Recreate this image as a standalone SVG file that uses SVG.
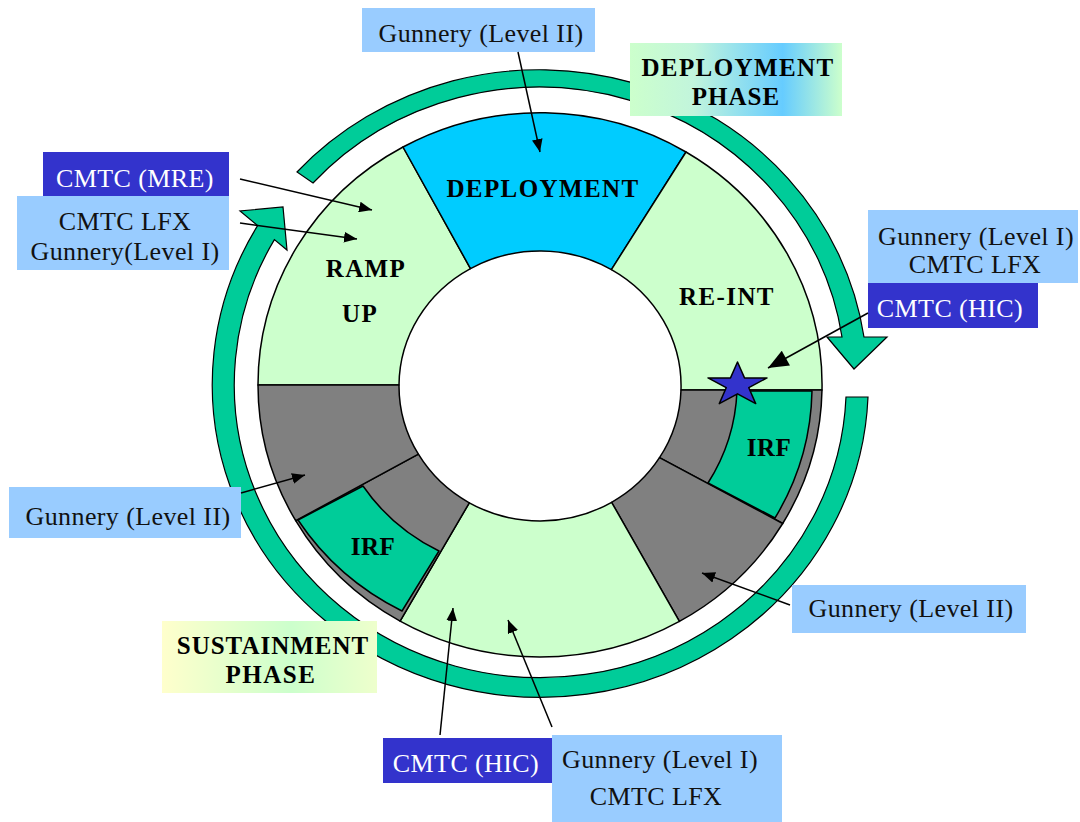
<svg xmlns="http://www.w3.org/2000/svg" width="1080" height="822" viewBox="0 0 1080 822">
<defs>
<style>
.seg{stroke:#000;stroke-width:1.5;stroke-linejoin:round}
.lg{fill:#ccffcc}
.gr{fill:#808080}
.bl{fill:#00ccff}
.tl{fill:#00cc99}
.band{fill:#00cc99;stroke:#000;stroke-width:1.2;stroke-linejoin:miter}
.lb{fill:#99ccff}
.db{fill:#3333cc}
.t{font-family:"Liberation Serif","Times New Roman",serif;font-size:26px;letter-spacing:0.4px;text-anchor:middle;fill:#111}
.tw{fill:#ffffff}
.b{font-family:"Liberation Serif","Times New Roman",serif;font-size:25px;font-weight:bold;letter-spacing:1.4px;text-anchor:middle;fill:#000}
.con{stroke:#000;stroke-width:1.5;fill:none}
</style>
<marker id="ah" viewBox="0 0 12 10" refX="12" refY="5" markerWidth="13" markerHeight="11" markerUnits="userSpaceOnUse" orient="auto"><path d="M0,0 L12,5 L0,10 Z" fill="#000"/></marker>
<marker id="ahL" viewBox="0 0 12 10" refX="12" refY="5" markerWidth="22" markerHeight="17" markerUnits="userSpaceOnUse" orient="auto"><path d="M0,0 L12,5 L0,10 Z" fill="#000"/></marker>
<linearGradient id="gDep" x1="0" y1="0" x2="1" y2="0">
<stop offset="0" stop-color="#ccffcc"/>
<stop offset="0.3" stop-color="#c2f5dc"/>
<stop offset="0.72" stop-color="#66ccff"/>
<stop offset="1" stop-color="#ccffcc"/>
</linearGradient>
<linearGradient id="gSus" x1="0" y1="0" x2="1" y2="0">
<stop offset="0" stop-color="#ffffcc"/>
<stop offset="0.6" stop-color="#ccffcc"/>
<stop offset="1" stop-color="#eeffcc"/>
</linearGradient>
</defs>
<rect width="1080" height="822" fill="#ffffff"/>

<g id="phase-arrows">
<path id="deployment-phase-arrow" class="band" d="M297,172 A328,313 0 0 1 864,337 L887,337 L854,369 L827,337 L842,337 A306,293 0 0 0 313,183 Z"/>
<path id="sustainment-phase-arrow" class="band" d="M868,397 A328,313 0 1 1 257.6,225.6 L240,211 L283,207 L287,250 L274.4,239.6 A306,293 0 1 0 846,397 Z"/>
</g>

<g id="sector-ramp-up">
<path class="seg lg" d="M258,385 A282,272 0 0 1 403,147 L470.5,268.6 A141,135 0 0 0 399,385 Z"/>
<text class="b" x="366" y="277">RAMP</text>
<text class="b" x="360" y="322">UP</text>
</g>
<g id="sector-deployment">
<path class="seg bl" d="M403,147 A282,272 0 0 1 686,152 L611.4,269.6 A141,135 0 0 0 470.5,268.6 Z"/>
<text class="b" x="543" y="197">DEPLOYMENT</text>
</g>
<g id="sector-re-int">
<path class="seg lg" d="M686,152 A282,272 0 0 1 822,390 L681,390 A141,135 0 0 0 611.4,269.6 Z"/>
<text class="b" x="727" y="305">RE-INT</text>
</g>
<g id="sector-right-gray">
<path class="seg gr" d="M822,390 A282,272 0 0 1 782.7,523.5 L659.5,457.7 A141,135 0 0 0 681,390 Z"/>
</g>
<g id="sector-lower-right-gray">
<path class="seg gr" d="M782.7,523.5 A282,272 0 0 1 679.4,621.4 L611.6,502.3 A141,135 0 0 0 659.5,457.7 Z"/>
</g>
<g id="sector-bottom">
<path class="seg lg" d="M679.4,621.4 A282,272 0 0 1 400.1,621.2 L469.3,502.8 A141,135 0 0 0 611.6,502.3 Z"/>
</g>
<g id="sector-lower-left-gray">
<path class="seg gr" d="M400.1,621.2 A282,272 0 0 1 295.7,520.7 L418.4,454.2 A141,135 0 0 0 469.3,502.8 Z"/>
</g>
<g id="sector-left-gray">
<path class="seg gr" d="M295.7,520.7 A282,272 0 0 1 258,385 L399,385 A141,135 0 0 0 418.4,454.2 Z"/>
</g>
<g id="irf-right">
<path class="seg tl" d="M737,391 A197,190 0 0 1 708,483 L775,518 A272,262 0 0 0 812,391 Z"/>
<text class="b" x="769" y="456" style="letter-spacing:0.5px">IRF</text>
</g>
<g id="irf-left">
<path class="seg tl" d="M298,520 L363,486 A200,192 0 0 0 439,551 L402,611 A272,262 0 0 1 298,520 Z"/>
<text class="b" x="373" y="555" style="letter-spacing:0.5px">IRF</text>
</g>
<g id="star">
<polygon class="seg" fill="#3333cc" stroke-width="1.2" points="737.5,362 744.5,377.9 767,377.9 748.8,387.7 755.7,403.6 737.5,393.8 719.3,403.6 726.2,387.7 708,377.9 730.5,377.9"/>
</g>

<g id="box-deployment-phase">
<rect x="630" y="43" width="212" height="73" fill="url(#gDep)"/>
<text class="b" x="738" y="76">DEPLOYMENT</text>
<text class="b" x="736" y="105" style="letter-spacing:1px">PHASE</text>
</g>
<g id="box-sustainment-phase">
<rect x="162" y="621" width="215" height="72" fill="url(#gSus)"/>
<text class="b" x="273" y="654" style="letter-spacing:1px">SUSTAINMENT</text>
<text class="b" x="271" y="683" style="letter-spacing:1.5px">PHASE</text>
</g>

<g id="box-top-gunnery2">
<rect class="lb" x="362" y="8" width="233" height="44"/>
<text class="t" x="481" y="42">Gunnery (Level II)</text>
</g>
<g id="box-cmtc-mre">
<rect class="db" x="43" y="152" width="186" height="44"/>
<text class="t tw" x="135" y="187">CMTC (MRE)</text>
</g>
<g id="box-left-lfx">
<rect class="lb" x="17" y="196" width="212" height="74"/>
<text class="t" x="125" y="230">CMTC LFX</text>
<text class="t" x="125" y="260">Gunnery(Level I)</text>
</g>
<g id="box-right-gunnery1">
<rect class="lb" x="868" y="210" width="210" height="73"/>
<text class="t" x="976" y="245">Gunnery (Level I)</text>
<text class="t" x="975" y="273">CMTC LFX</text>
</g>
<g id="box-right-hic">
<rect class="db" x="868" y="283" width="170" height="45"/>
<text class="t tw" x="950" y="317">CMTC (HIC)</text>
</g>
<g id="box-left-gunnery2">
<rect class="lb" x="9" y="487" width="232" height="51"/>
<text class="t" x="128" y="525">Gunnery (Level II)</text>
</g>
<g id="box-right-gunnery2">
<rect class="lb" x="792" y="585" width="234" height="48"/>
<text class="t" x="911" y="617">Gunnery (Level II)</text>
</g>
<g id="box-bottom-hic">
<rect class="db" x="383" y="738" width="169" height="45"/>
<text class="t tw" x="466" y="772">CMTC (HIC)</text>
</g>
<g id="box-bottom-gunnery1">
<rect class="lb" x="552" y="735" width="230" height="87"/>
<text class="t" x="660" y="768">Gunnery (Level I)</text>
<text class="t" x="656" y="805">CMTC LFX</text>
</g>

<g id="connectors">
<line class="con" x1="518" y1="52" x2="540" y2="152" marker-end="url(#ah)"/>
<line class="con" x1="240" y1="179" x2="372" y2="210" marker-end="url(#ah)"/>
<line class="con" x1="240" y1="223" x2="357" y2="239" marker-end="url(#ah)"/>
<line class="con" x1="868" y1="313" x2="768" y2="368" stroke-width="3" marker-end="url(#ahL)"/>
<line class="con" x1="241" y1="493" x2="305" y2="475" marker-end="url(#ah)"/>
<line class="con" x1="790" y1="605" x2="702" y2="573" marker-end="url(#ah)"/>
<line class="con" x1="440" y1="735" x2="453" y2="608" marker-end="url(#ah)"/>
<line class="con" x1="552" y1="727" x2="508" y2="620" marker-end="url(#ah)"/>
</g>
</svg>
